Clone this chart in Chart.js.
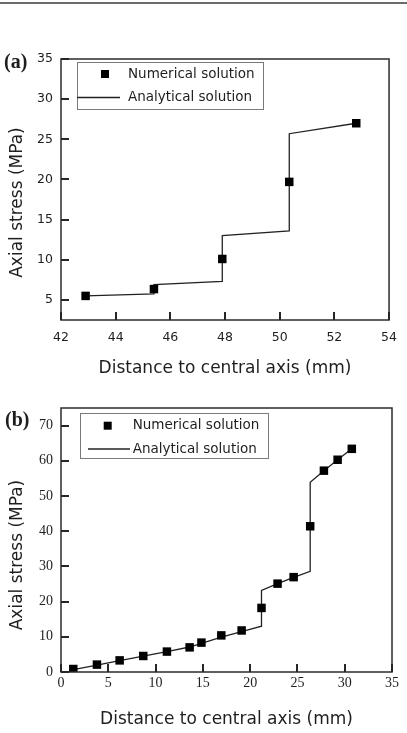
<!DOCTYPE html>
<html>
<head>
<meta charset="utf-8">
<script src="https://cdn.jsdelivr.net/npm/chart.js@4.4.1/dist/chart.umd.min.js"></script>
<style>
html, body { margin: 0; padding: 0; background: #fff; }
#page { position: relative; width: 407px; height: 733px; overflow: hidden; }
#rule { position: absolute; left: 0; top: 2px; width: 407px; height: 2px; background: #6a6a6a; }
#chartA { position: absolute; left: 0; top: 0; }
#chartB { position: absolute; left: 0; top: 380px; }
</style>
</head>
<body>
<div id="page">
  <div id="rule"></div>
  <canvas id="chartA" width="407" height="380"></canvas>
  <canvas id="chartB" width="407" height="353"></canvas>
</div>
<script>
// panel (a)
const distA = [42.9, 45.4, 47.9, 50.35, 52.8];
const numA = [5.5, 6.35, 10.1, 19.7, 27.0];
const anaDistA = [42.9, 45.4, 45.4, 47.9, 47.9, 50.35, 50.35, 52.8];
const anaA = [5.5, 5.75, 6.9, 7.3, 13.0, 13.6, 25.7, 27.0];
const xTicksA = [42, 44, 46, 48, 50, 52, 54];
const yTicksA = [5, 10, 15, 20, 25, 30, 35];

// panel (b)
const distB = [1.3, 3.8, 6.2, 8.7, 11.2, 13.6, 14.85, 16.95, 19.1, 21.2, 22.9, 24.6, 26.35, 27.8, 29.25, 30.75];
const numB = [0.85, 2.1, 3.3, 4.55, 5.8, 7.0, 8.35, 10.4, 11.8, 18.2, 25.1, 26.95, 41.4, 57.2, 60.3, 63.4];
const anaDistB = [1.3, 3.8, 6.2, 8.7, 11.2, 13.6, 14.85, 16.95, 19.1, 21.2, 21.2, 22.9, 24.6, 26.35, 26.35, 27.8, 29.25, 30.75];
const anaB = [0.7, 1.95, 3.2, 4.5, 5.8, 7.1, 8.1, 9.9, 11.5, 13.0, 23.2, 25.1, 26.9, 28.6, 53.9, 57.2, 60.3, 63.4];
const xTicksB = [0, 5, 10, 15, 20, 25, 30, 35];
const yTicksB = [0, 10, 20, 30, 40, 50, 60, 70];

const seriesNames = ["Numerical solution", "Analytical solution"];
const xTitle = "Distance to central axis (mm)";
const yTitle = "Axial stress (MPa)";

Chart.defaults.font.family = '"DejaVu Sans", sans-serif';
Chart.defaults.color = '#1e1e1e';

function pairs(xs, ys) {
  return xs.map((x, i) => ({ x: x, y: ys[i] }));
}

function keepTicks(vals) {
  return function(scale) {
    scale.ticks = vals.map(v => ({ value: v }));
  };
}

// frame, inward ticks, axis titles, panel letter and boxed legend
const panelDecor = {
  id: 'panelDecor',
  afterDraw(chart, args, o) {
    const ctx = chart.ctx;
    const a = chart.chartArea;
    const sx = chart.scales.x, sy = chart.scales.y;
    ctx.save();
    ctx.strokeStyle = '#2b2b2b';
    ctx.lineWidth = 1.5;
    ctx.strokeRect(a.left, a.top, a.right - a.left, a.bottom - a.top);

    // inward tick marks
    ctx.fillStyle = '#262626';
    o.xTicks.forEach(v => {
      const px = Math.round(sx.getPixelForValue(v));
      ctx.fillRect(px - 1, a.bottom - 8, 2, 8);
    });
    o.yTicks.forEach(v => {
      const py = Math.round(sy.getPixelForValue(v));
      ctx.fillRect(a.left, py - 1, 8, 2);
    });

    ctx.fillStyle = '#1e1e1e';
    ctx.font = '17px "DejaVu Sans"';
    ctx.textAlign = 'center';
    ctx.textBaseline = 'alphabetic';
    ctx.fillText(xTitle, (a.left + a.right) / 2, a.bottom + o.xTitleGap);

    ctx.save();
    ctx.translate(o.yTitleX, (a.top + a.bottom) / 2 + o.yTitleShift);
    ctx.rotate(-Math.PI / 2);
    ctx.textBaseline = 'middle';
    ctx.fillText(yTitle, 0, 0);
    ctx.restore();

    ctx.font = 'bold 20px "Liberation Serif"';
    ctx.textAlign = 'left';
    ctx.textBaseline = 'middle';
    ctx.fillText(o.letter, o.letterX, o.letterY);

    const lg = o.legend;
    ctx.strokeStyle = '#7a7a7a';
    ctx.lineWidth = 1;
    ctx.strokeRect(lg.x + 0.5, lg.y + 0.5, lg.w, lg.h);
    ctx.font = '13.5px "DejaVu Sans"';
    chart.data.datasets.forEach((ds, i) => {
      const cy = lg.rows[i];
      if (ds.showLine === false) {
        ctx.fillStyle = ds.pointBackgroundColor;
        ctx.fillRect(lg.markerX - 4, cy - 4, 8, 8);
      } else {
        ctx.strokeStyle = ds.borderColor;
        ctx.lineWidth = ds.borderWidth;
        ctx.beginPath();
        ctx.moveTo(lg.lineX1, cy);
        ctx.lineTo(lg.lineX2, cy);
        ctx.stroke();
      }
      ctx.fillStyle = '#1e1e1e';
      ctx.fillText(ds.label, lg.textX, cy);
    });
    ctx.restore();
  }
};

function makeChart(id, num, ana, xr, yr, xTicks, yTicks, tickFont, sizes, decor) {
  decor.xTicks = xTicks;
  decor.yTicks = yTicks;
  return new Chart(document.getElementById(id), {
    type: 'scatter',
    data: {
      datasets: [
        {
          label: seriesNames[0],
          data: num,
          showLine: false,
          pointStyle: 'rect',
          pointRadius: 6,
          pointBackgroundColor: '#000',
          pointBorderColor: '#000',
          pointBorderWidth: 0
        },
        {
          label: seriesNames[1],
          data: ana,
          showLine: true,
          pointRadius: 0,
          borderColor: '#222',
          borderWidth: 1.3,
          fill: false
        }
      ]
    },
    options: {
      responsive: false,
      animation: false,
      events: [],
      layout: { padding: sizes.padding },
      plugins: {
        legend: { display: false },
        tooltip: { enabled: false },
        panelDecor: decor
      },
      scales: {
        x: {
          type: 'linear',
          min: xr[0],
          max: xr[1],
          afterBuildTicks: keepTicks(xTicks),
          afterFit: s => { s.height = sizes.xHeight; },
          border: { display: false },
          grid: { display: false, drawTicks: false },
          ticks: { font: tickFont, padding: sizes.xPad, color: '#1e1e1e', maxRotation: 0 }
        },
        y: {
          type: 'linear',
          min: yr[0],
          max: yr[1],
          afterBuildTicks: keepTicks(yTicks),
          afterFit: s => { s.width = 61; },
          border: { display: false },
          grid: { display: false, drawTicks: false },
          ticks: { font: tickFont, padding: sizes.yPad, color: '#1e1e1e' }
        }
      }
    },
    plugins: [panelDecor]
  });
}

makeChart('chartA', pairs(distA, numA), pairs(anaDistA, anaA), [42, 54], [2.5, 35], xTicksA, yTicksA,
  { family: '"DejaVu Sans"', size: 12.5 },
  { padding: { left: 0, right: 17, top: 59, bottom: 0 }, xHeight: 60, xPad: 10, yPad: 8 },
  {
    letter: '(a)', letterX: 4, letterY: 63,
    xTitleGap: 53, yTitleX: 17.5, yTitleShift: 13,
    legend: { x: 77, y: 62, w: 186, h: 47, rows: [74, 97.5], markerX: 105, lineX1: 77, lineX2: 120, textX: 128 }
  });

makeChart('chartB', pairs(distB, numB), pairs(anaDistB, anaB), [0, 35], [0, 75], xTicksB, yTicksB,
  { family: '"Liberation Serif"', size: 14 },
  { padding: { left: 0, right: 15, top: 28, bottom: 0 }, xHeight: 61, xPad: 3, yPad: 8 },
  {
    letter: '(b)', letterX: 5, letterY: 41,
    xTitleGap: 52, yTitleX: 17.5, yTitleShift: 15,
    legend: { x: 80, y: 33, w: 188, h: 45, rows: [45.7, 69], markerX: 107.7, lineX1: 88, lineX2: 130, textX: 132.7 }
  });
</script>
</body>
</html>
